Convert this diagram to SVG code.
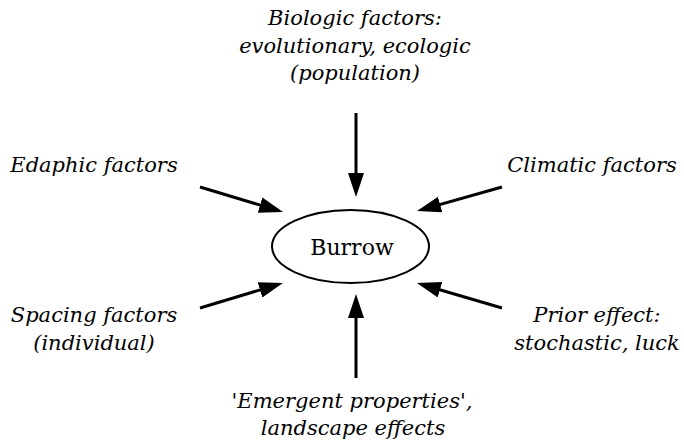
<svg xmlns="http://www.w3.org/2000/svg" width="684" height="444" viewBox="0 0 684 444">
<defs>
<style>
.lbl{font-family:"DejaVu Serif","Liberation Serif",serif;font-style:italic;font-size:21px;fill:#000;text-anchor:middle}
.node{font-family:"DejaVu Serif","Liberation Serif",serif;font-size:22px;fill:#000;text-anchor:middle}
.arr{stroke:#000;stroke-width:3;fill:none;marker-end:url(#ah)}
</style>
<marker id="ah" markerUnits="userSpaceOnUse" markerWidth="24" markerHeight="16" refX="18" refY="8" orient="auto">
<path d="M0,0 L24,8 L0,16 z" fill="#000"/>
</marker>
</defs>
<rect width="684" height="444" fill="#fff"/>
<g id="connectors">
<line class="arr" x1="356" y1="113" x2="356" y2="191"/>
<line class="arr" x1="356" y1="378" x2="356" y2="300"/>
<line class="arr" x1="200" y1="187" x2="277.3" y2="210.3"/>
<line class="arr" x1="200" y1="308" x2="277.2" y2="284.7"/>
<line class="arr" x1="502" y1="187" x2="422.8" y2="209.4"/>
<line class="arr" x1="502" y1="308" x2="422.7" y2="284.7"/>
</g>
<g id="burrow">
<ellipse cx="350.5" cy="246.5" rx="78.5" ry="36.5" fill="none" stroke="#000" stroke-width="2"/>
<text class="node" x="352" y="255">Burrow</text>
</g>
<g id="biologic">
<text class="lbl" x="355" y="25">Biologic factors:</text>
<text class="lbl" x="355" y="53">evolutionary, ecologic</text>
<text class="lbl" x="355" y="80">(population)</text>
</g>
<g id="edaphic">
<text class="lbl" x="94" y="172">Edaphic factors</text>
</g>
<g id="climatic">
<text class="lbl" x="592" y="172">Climatic factors</text>
</g>
<g id="spacing">
<text class="lbl" x="94" y="322">Spacing factors</text>
<text class="lbl" x="94" y="350">(individual)</text>
</g>
<g id="prior">
<text class="lbl" x="597" y="322">Prior effect:</text>
<text class="lbl" x="597" y="350">stochastic, luck</text>
</g>
<g id="emergent">
<text class="lbl" x="352" y="408">'Emergent properties',</text>
<text class="lbl" x="353" y="435">landscape effects</text>
</g>
</svg>
